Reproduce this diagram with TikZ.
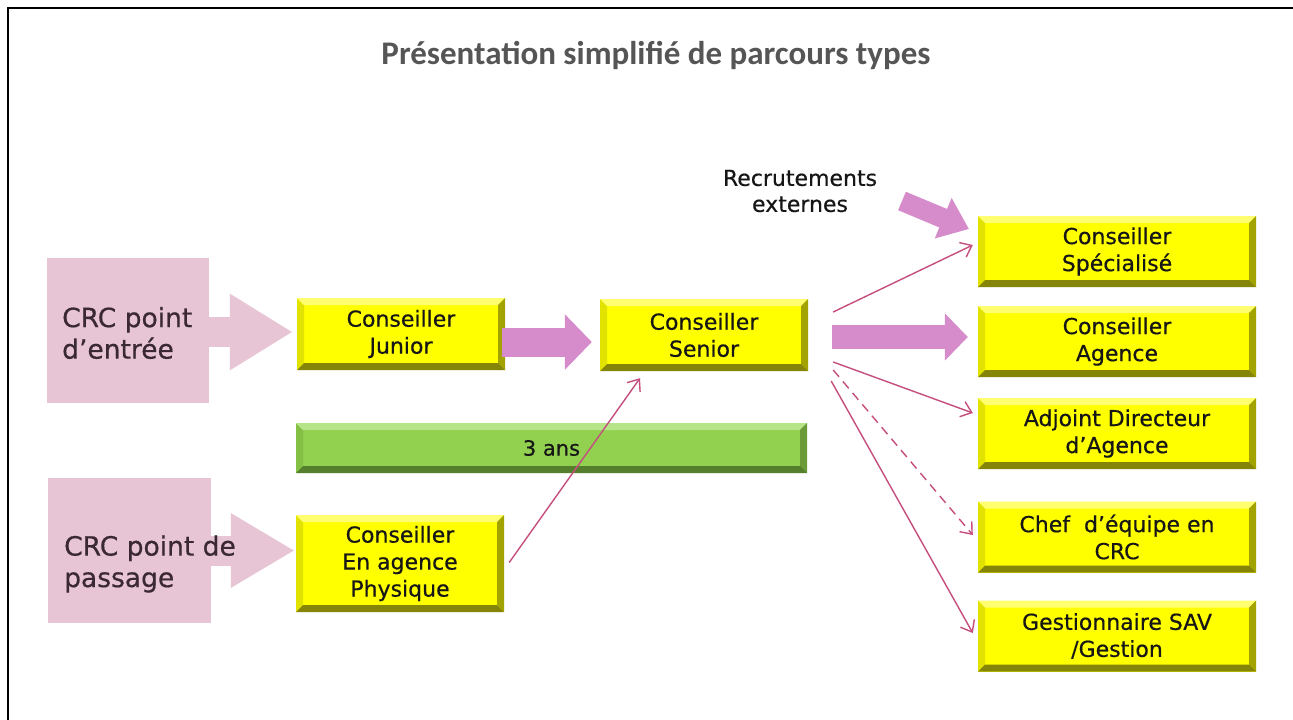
\documentclass[tikz,border=0pt]{standalone}
\usepackage{fontspec}
\newfontfamily\boxfont[FakeBold=0.5]{DejaVu Sans}
\newfontfamily\titlefont{Carlito}
\usetikzlibrary{arrows.meta,calc}
\definecolor{ymain}{HTML}{FFFF00}
\definecolor{ytop}{HTML}{FFFF70}
\definecolor{yleft}{HTML}{E2E200}
\definecolor{ybot}{HTML}{85850A}
\definecolor{yright}{HTML}{A3A300}
\definecolor{gmain}{HTML}{92D050}
\definecolor{gtop}{HTML}{B6E488}
\definecolor{gleft}{HTML}{84C044}
\definecolor{gbot}{HTML}{557F2C}
\definecolor{gright}{HTML}{6B9A38}
\definecolor{crcpink}{HTML}{E7C5D4}
\definecolor{orchidarrow}{HTML}{D68BCB}
\definecolor{thinline}{HTML}{C54E7E}
\definecolor{titlegray}{HTML}{555555}
\definecolor{boxtext}{HTML}{161616}
\definecolor{crctext}{HTML}{3A2834}
\tikzset{
  bevel/.style n args={4}{path picture={
    \coordinate (bSW) at (path picture bounding box.south west);
    \coordinate (bSE) at (path picture bounding box.south east);
    \coordinate (bNW) at (path picture bounding box.north west);
    \coordinate (bNE) at (path picture bounding box.north east);
    \fill[#2] (bSW) -- (bNW) -- ($(bNW)+(7pt,-7pt)$) -- ($(bSW)+(7pt,7pt)$) -- cycle;
    \fill[#1] (bNW) -- (bNE) -- ($(bNE)+(-7pt,-7pt)$) -- ($(bNW)+(7pt,-7pt)$) -- cycle;
    \fill[#4] (bSE) -- (bNE) -- ($(bNE)+(-7pt,-7pt)$) -- ($(bSE)+(-7pt,7pt)$) -- cycle;
    \fill[#3] (bSW) -- (bSE) -- ($(bSE)+(-7pt,7pt)$) -- ($(bSW)+(7pt,7pt)$) -- cycle;
  }},
  ybox/.style={fill=ymain, bevel={ytop}{yleft}{ybot}{yright}, minimum width=208pt,
    minimum height=72pt, inner sep=0pt, align=center, text=boxtext,
    font={\boxfont\fontsize{22pt}{27pt}\selectfont},
    execute at begin node={\rule{0pt}{26pt}}},
  rbox/.style={ybox, minimum width=278pt, minimum height=71pt},
  gbar/.style={fill=gmain, bevel={gtop}{gleft}{gbot}{gright}, minimum width=511pt,
    minimum height=50pt, inner sep=0pt, text=boxtext,
    font={\boxfont\fontsize{21pt}{26pt}\selectfont}},
  crcbox/.style={fill=crcpink, inner sep=0pt},
  crctxt/.style={anchor=west, align=left, inner sep=0pt, text=crctext,
    font={\boxfont\fontsize{26.5pt}{31.5pt}\selectfont}},
  thinarr/.style={draw=thinline, line width=1.4pt, -{Straight Barb[length=10pt,width=16pt]}},
}
\begin{document}
\begin{tikzpicture}[x=1pt,y=-1pt]
\useasboundingbox (0,0) rectangle (1293,720);
\fill[white] (0,0) rectangle (1293,720);
\draw[line width=2.5pt] (8,720) -- (8,8) -- (1293,8);
\node[font={\titlefont\bfseries\fontsize{33pt}{40pt}\selectfont}, text=titlegray] (title) at (656,55) {Présentation simplifié de parcours types};

% pink entry shapes
\node[crcbox, minimum width=162pt, minimum height=145pt] (crc1) at (128,330.5) {};
\node[crcbox, minimum width=163pt, minimum height=145pt] (crc2) at (129.5,550.5) {};

% boxes
\node[ybox] (junior) at (401,334) {Conseiller\\Junior};
\node[ybox] (senior) at (704,335) {Conseiller\\Senior};
\node[ybox, minimum height=97pt] (physique) at (400,563.5) {Conseiller\\En agence\\Physique};
\node[gbar] (bar) at (551.5,448) {3 ans};
\node[rbox] (spec) at (1117,251.5) {Conseiller\\Spécialisé};
\node[rbox] (agence) at (1117,341.5) {Conseiller\\Agence};
\node[rbox] (adjoint) at (1117,433.5) {Adjoint Directeur\\d’Agence};
\node[rbox] (chef) at (1117,537) {Chef \ d’équipe en\\CRC};
\node[rbox] (gest) at (1117,636) {Gestionnaire SAV\\/Gestion};
\node[align=center, inner sep=0pt, text=boxtext, font={\boxfont\fontsize{22pt}{26pt}\selectfont}] (recr) at (800,191) {Recrutements\\externes};

% pink arrows from CRC
\coordinate (a1s) at ($(crc1.east)+(0,1.5)$);
\draw[crcpink, line width=30pt, -{Triangle[length=63pt,width=72pt]}, shorten >=4pt] (a1s) -- (a1s -| junior.west);
\draw[crcpink, line width=30pt, -{Triangle[length=64pt,width=70pt]}, shorten >=1pt] (crc2.east) -- (crc2.east -| physique.west);
\node[crctxt] (crc1t) at (62,333) {CRC point\\d’entrée};
\node[crctxt] (crc2t) at (64,564) {CRC point de\\passage};

% orchid arrows
\coordinate (js) at ($(junior.east)+(-3,8)$);
\draw[orchidarrow, line width=29pt, -{Triangle[length=27pt,width=54pt]}, shorten >=8pt] (js) -- (js -| senior.west);
\coordinate (sa) at ($(senior.east)+(24,2)$);
\draw[orchidarrow, line width=24pt, -{Triangle[length=23pt,width=46pt]}, shorten >=10pt] (sa) -- (sa -| agence.west);
\coordinate (rtail) at (902,201);
\coordinate (rtip) at (969,229);
\draw[orchidarrow, line width=20pt, -{Triangle[length=28pt,width=42pt]}] (rtail) -- (rtip);

% thin arrows
\draw[thinarr] ($(physique.east)+(5,-1)$) -- ($(senior.south)+(-64,7)$);
\draw[thinarr] ($(senior.east)+(25,-23)$) -- ($(spec.west)+(-5,-6.5)$);
\draw[thinarr] ($(senior.east)+(25,27)$) -- ($(adjoint.west)+(-5,-20.5)$);
\draw[thinarr, dash pattern=on 9pt off 6pt] ($(senior.east)+(25,35)$) -- ($(chef.west)+(-5,-2)$);
\draw[thinarr] ($(senior.east)+(23,46)$) -- ($(gest.west)+(-5,-3)$);
\end{tikzpicture}
\end{document}
